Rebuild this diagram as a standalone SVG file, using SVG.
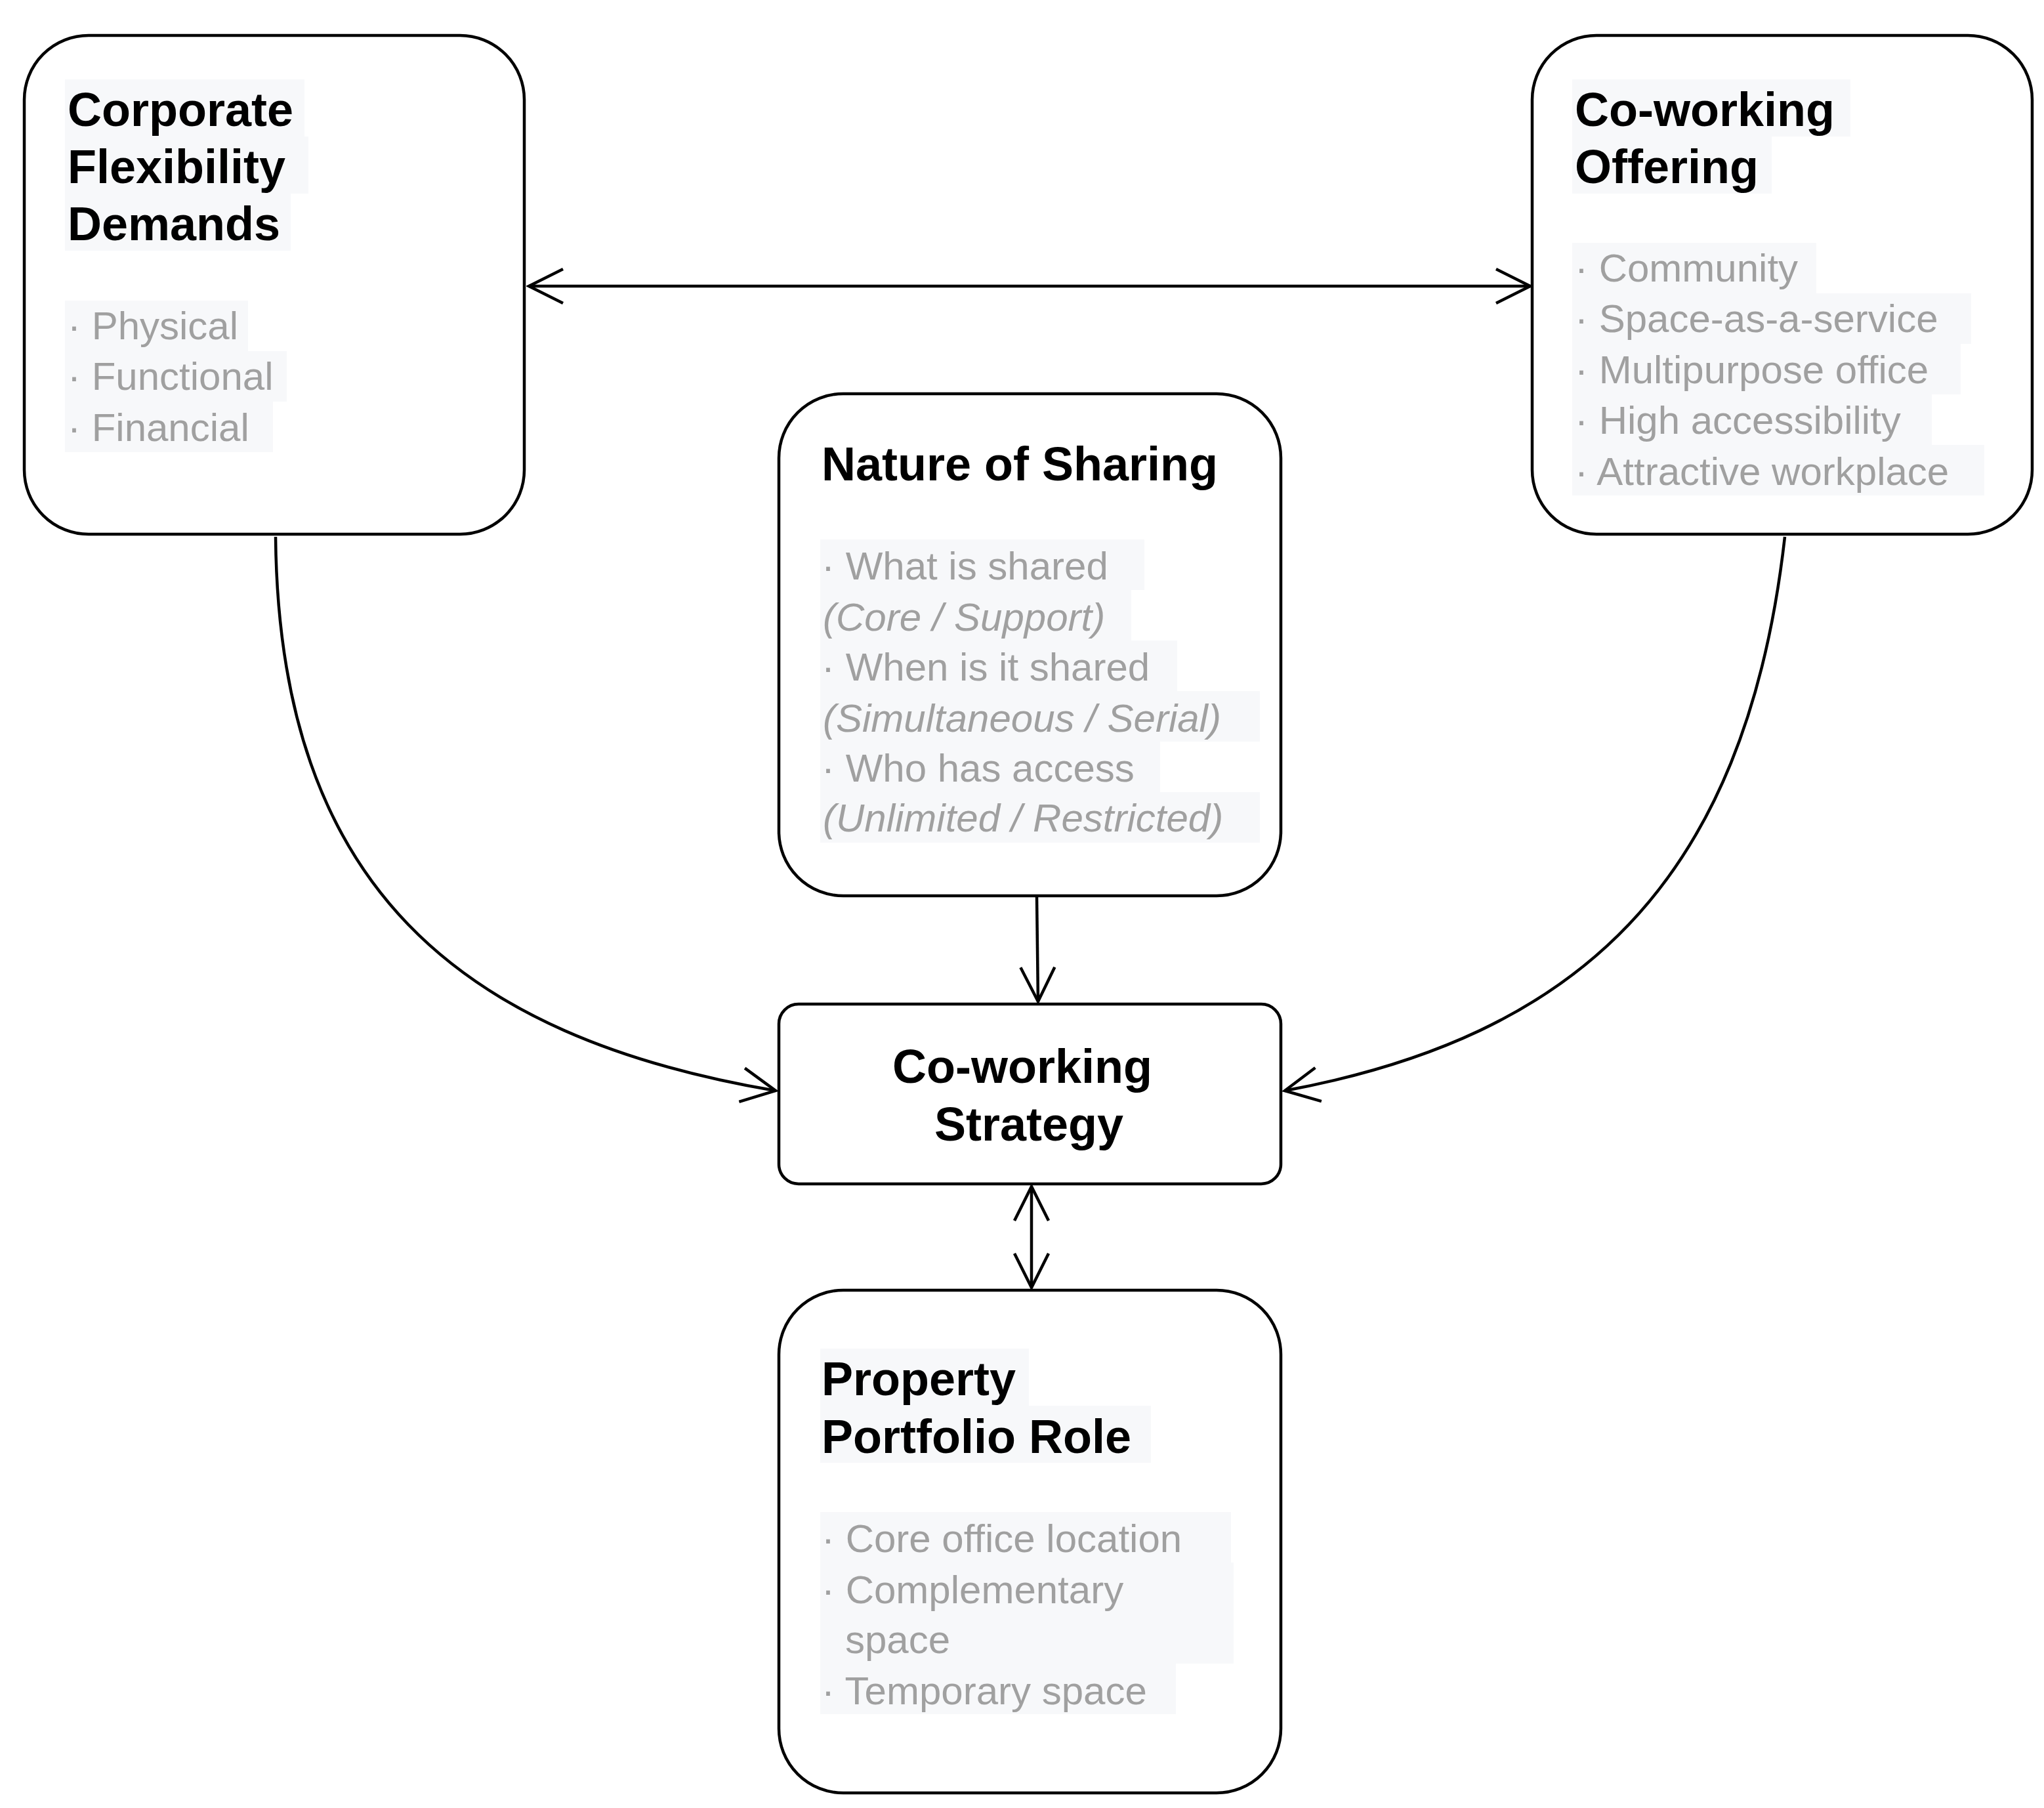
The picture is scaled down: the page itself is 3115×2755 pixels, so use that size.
<svg xmlns="http://www.w3.org/2000/svg" width="3115" height="2755" viewBox="0 0 3115 2755">
<style>
.box{fill:#fff;stroke:#000;stroke-width:4.5}
.t{font-family:"Liberation Sans",Arial,sans-serif;font-weight:bold;font-size:72px;fill:#000}
.b{font-family:"Liberation Sans",Arial,sans-serif;font-size:60px;fill:#a0a0a0}
.i{font-style:italic}
.hl{fill:#f7f8fa}
.c{fill:none;stroke:#000;stroke-width:4.5}
</style>
<defs>
<marker id="a" markerUnits="userSpaceOnUse" markerWidth="60" markerHeight="60" viewBox="-56 -30 60 60" refX="0" refY="0" orient="auto-start-reverse">
<path d="M-52,-26 L0,0 L-52,26" fill="none" stroke="#000" stroke-width="4.5"/>
</marker>
</defs>
<g id="connectors">
<path class="c" d="M806,436 H2332" marker-start="url(#a)" marker-end="url(#a)"/>
<path class="c" d="M420,818 C425,1350 700,1580 1182,1662" marker-end="url(#a)"/>
<path class="c" d="M2720,818 C2660,1350 2400,1580 1958,1662" marker-end="url(#a)"/>
<path class="c" d="M1580,1366 L1582,1526" marker-end="url(#a)"/>
<path class="c" d="M1572,1808 V1962" marker-start="url(#a)" marker-end="url(#a)"/>
</g>
<g id="corporate">
<rect class="box" x="37" y="54" width="762" height="760" rx="98"/>
<rect class="hl" x="99" y="121" width="365" height="87"/>
<rect class="hl" x="99" y="208" width="371" height="87"/>
<rect class="hl" x="99" y="295" width="344" height="87"/>
<rect class="hl" x="99" y="458" width="279" height="77"/>
<rect class="hl" x="99" y="535" width="338" height="77"/>
<rect class="hl" x="99" y="612" width="317" height="77"/>
<text class="t" x="103" y="192">Corporate</text>
<text class="t" x="103" y="279">Flexibility</text>
<text class="t" x="103" y="366">Demands</text>
<text class="b" x="103" y="517">· Physical</text>
<text class="b" x="103" y="594">· Functional</text>
<text class="b" x="103" y="672">· Financial</text>
</g>
<g id="offering">
<rect class="box" x="2335" y="54" width="762" height="760" rx="98"/>
<rect class="hl" x="2396" y="121" width="424" height="87"/>
<rect class="hl" x="2396" y="208" width="304" height="87"/>
<rect class="hl" x="2396" y="370" width="372" height="77"/>
<rect class="hl" x="2396" y="447" width="608" height="77"/>
<rect class="hl" x="2396" y="524" width="592" height="77"/>
<rect class="hl" x="2396" y="601" width="548" height="77"/>
<rect class="hl" x="2396" y="678" width="628" height="77"/>
<text class="t" x="2400" y="192">Co-working</text>
<text class="t" x="2400" y="279">Offering</text>
<text class="b" x="2400" y="429">· Community</text>
<text class="b" x="2400" y="506">· Space-as-a-service</text>
<text class="b" x="2400" y="584">· Multipurpose office</text>
<text class="b" x="2400" y="661">· High accessibility</text>
<text class="b" x="2400" y="739">· Attractive workplace</text>
</g>
<g id="sharing">
<rect class="box" x="1187" y="600" width="765" height="765" rx="98"/>
<rect class="hl" x="1250" y="822" width="494" height="77"/>
<rect class="hl" x="1250" y="899" width="474" height="77"/>
<rect class="hl" x="1250" y="976" width="544" height="77"/>
<rect class="hl" x="1250" y="1053" width="670" height="77"/>
<rect class="hl" x="1250" y="1130" width="518" height="77"/>
<rect class="hl" x="1250" y="1207" width="670" height="77"/>
<text class="t" x="1252" y="732">Nature of Sharing</text>
<text class="b" x="1252" y="883">· What is shared</text>
<text class="b i" x="1254" y="961">(Core / Support)</text>
<text class="b" x="1252" y="1037">· When is it shared</text>
<text class="b i" x="1254" y="1115">(Simultaneous / Serial)</text>
<text class="b" x="1252" y="1191">· Who has access</text>
<text class="b i" x="1254" y="1267">(Unlimited / Restricted)</text>
</g>
<g id="strategy">
<rect class="box" x="1187" y="1530" width="765" height="274" rx="30"/>
<text class="t" x="1558" y="1650" text-anchor="middle">Co-working</text>
<text class="t" x="1568" y="1738" text-anchor="middle">Strategy</text>
</g>
<g id="property">
<rect class="box" x="1187" y="1966" width="765" height="766" rx="98"/>
<rect class="hl" x="1250" y="2055" width="318" height="87"/>
<rect class="hl" x="1250" y="2142" width="504" height="87"/>
<rect class="hl" x="1250" y="2304" width="626" height="77"/>
<rect class="hl" x="1250" y="2381" width="630" height="77"/>
<rect class="hl" x="1250" y="2458" width="630" height="77"/>
<rect class="hl" x="1250" y="2535" width="542" height="77"/>
<text class="t" x="1252" y="2126">Property</text>
<text class="t" x="1252" y="2214">Portfolio Role</text>
<text class="b" x="1252" y="2365">· Core office location</text>
<text class="b" x="1252" y="2443">· Complementary</text>
<text class="b" x="1288" y="2519">space</text>
<text class="b" x="1252" y="2597">· Temporary space</text>
</g>
</svg>
